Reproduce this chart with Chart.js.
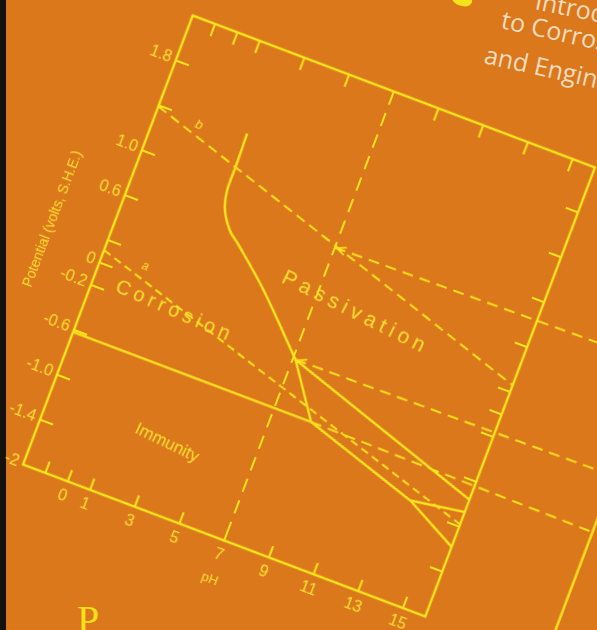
<!DOCTYPE html>
<html>
<head>
<meta charset="utf-8">
<script src="https://cdn.jsdelivr.net/npm/chart.js@4.4.1/dist/chart.umd.min.js"></script>
<style>
  html, body { margin: 0; padding: 0; }
  body { width: 597px; height: 630px; overflow: hidden; position: relative; background: #dc781c; }
  #strip { position: absolute; left: 0; top: 0; width: 6px; height: 630px; background: #15110d; }
  #plot { position: absolute; left: 14px; top: 55.5px; width: 670px; height: 560px;
          transform-origin: 295px 260px; transform: rotate(20.7deg); }
  .title { position: absolute; font: 25px "Open Sans", sans-serif; color: #f6dcbe; line-height: 1;
           white-space: nowrap; transform-origin: 0 22px; transform: rotate(12.5deg); }
  #blob { position: absolute; left: 452px; top: -6px; width: 20px; height: 12px; background: #f5e21a;
          border-radius: 50% 40% 60% 50%; transform: rotate(20deg); }
  #big { position: absolute; left: 77px; top: 600px; font: 40px "Liberation Serif", serif; color: #f5e01a; line-height: 1; }
</style>
</head>
<body>
<div id="strip"></div>
<div id="blob"></div>
<div class="title" style="left:534px; top:-13px; transform: rotate(11.5deg)">Introduction</div>
<div class="title" style="left:500px; top:6px">to Corrosion</div>
<div class="title" style="left:483px; top:41px">and Engineering</div>
<div id="big">P</div>
<div id="plot"><canvas id="chart" width="670" height="560"></canvas></div>
<script>
// axis ticks (pH across, potential in volts up)
const phTicks = [-1, 0, 1, 3, 5, 7, 9, 11, 13, 15];
const phLabels = ['', '0', '1', '3', '5', '7', '9', '11', '13', '15'];
const eTicks = [-1.8, -1.4, -1.0, -0.6, -0.2, 0, 0.2, 0.6, 1.0, 1.4, 1.8];
const eLabels = ['-2', '-1.4', '-1.0', '-0.6', '-0.2', '0', '', '0.6', '1.0', '', '1.8'];

// boundaries as [pH, E] pairs
const lineA = [[-2, 0.11], [16, -0.98]];
const lineB = [[-2, 1.39], [16, 0.26]];
const neutral = [[7, 2.2], [7, -1.8]];
const upperDash = [[7, 0.81], [21.3, 0.85]];
const middleDash = [[7.12, -0.18], [21.3, -0.15]];
const lowerDash = [[8.65, -0.62], [21.3, -0.65]];
const ironLine = [[-2, -0.62], [8.65, -0.62]];
const passiveCurve = [[1.88, 1.44], [1.92, 1.14], [1.94, 0.93], [2.16, 0.77], [2.65, 0.63], [3.17, 0.55], [4.77, 0.28], [7.12, -0.18]];
const linkLine = [[7.12, -0.18], [8.65, -0.62]];
const upperOxide = [[7.12, -0.18], [16, -0.76]];
const lowerOxide = [[8.65, -0.62], [13.7, -0.94]];
const tailUp = [[13.7, -0.94], [16, -0.87]];
const tailDown = [[13.7, -0.94], [16, -1.18]];
const secondFrame = [[21.3, 2.2], [21.3, -1.8]];

// region names and line letters
const notes = [
  { text: 'Corrosion', ph: 1.68, e: -0.16 },
  { text: 'Passivation', ph: 8.78, e: 0.36 },
  { text: 'Immunity', ph: 3.32, e: -1.21 },
  { text: 'a', ph: -0.14, e: 0.1 },
  { text: 'b', ph: -0.13, e: 1.36 }
];
const arrowsAt = [[7, 0.81], [7.12, -0.18]];

const yellow = '#ffe61c';
const textYellow = '#fbe030';

Chart.defaults.font.family = '"Liberation Sans", Arial, sans-serif';

const pts = (arr) => arr.map(([x, y]) => ({ x, y }));
function solid(arr) {
  return { data: pts(arr), showLine: true, borderColor: yellow, borderWidth: 2.4,
           pointRadius: 0, tension: 0, clip: false };
}
function dashed(arr, dash) {
  return { ...solid(arr), borderWidth: 1.9, borderDash: dash };
}

const noteStyle = {
  Corrosion: { font: '20px "Liberation Sans"', spacing: '4.5px', turn: 3 },
  Passivation: { font: '21px "Liberation Sans"', spacing: '5px', turn: 6 },
  Immunity: { font: '17px "Liberation Sans"', spacing: '0px', turn: 5 },
  a: { font: 'italic 12px "Liberation Sans"', spacing: '0px', turn: 0 },
  b: { font: 'italic 13px "Liberation Sans"', spacing: '0px', turn: 0 }
};

// frame with inward tick marks, region labels, little arrow heads
const frame = {
  id: 'frame',
  afterDatasetsDraw(chart) {
    const { ctx, chartArea: a, scales: { x, y } } = chart;
    ctx.save();
    ctx.strokeStyle = yellow;
    ctx.lineWidth = 2.4;
    ctx.strokeRect(a.left, a.top, a.width, a.height);
    ctx.lineWidth = 2;
    ctx.beginPath();
    phTicks.forEach((v) => {
      const px = x.getPixelForValue(v);
      ctx.moveTo(px, a.bottom); ctx.lineTo(px, a.bottom - 12);
      ctx.moveTo(px, a.top); ctx.lineTo(px, a.top + 13);
    });
    eTicks.forEach((v) => {
      if (v <= y.min) return;
      const py = y.getPixelForValue(v);
      ctx.moveTo(a.left, py); ctx.lineTo(a.left + 14, py);
      ctx.moveTo(a.right, py); ctx.lineTo(a.right - 13, py);
    });
    ctx.stroke();

    ctx.lineWidth = 1.6;
    ctx.beginPath();
    arrowsAt.forEach(([ph, e]) => {
      const px = x.getPixelForValue(ph) + 2, py = y.getPixelForValue(e);
      ctx.moveTo(px + 9, py - 4); ctx.lineTo(px, py); ctx.lineTo(px + 9, py + 4);
    });
    ctx.stroke();

    ctx.fillStyle = textYellow;
    ctx.textAlign = 'center';
    ctx.textBaseline = 'middle';
    notes.forEach((n) => {
      const s = noteStyle[n.text];
      ctx.save();
      ctx.translate(x.getPixelForValue(n.ph), y.getPixelForValue(n.e));
      ctx.rotate(s.turn * Math.PI / 180);
      ctx.font = s.font;
      ctx.letterSpacing = s.spacing;
      ctx.fillText(n.text, 0, 0);
      ctx.restore();
    });
    ctx.restore();
  }
};

new Chart(document.getElementById('chart'), {
  type: 'scatter',
  data: {
    datasets: [
      dashed(lineA, [8, 5]),
      dashed(lineB, [10, 6]),
      dashed(neutral, [14, 9]),
      dashed(upperDash, [11, 7]),
      dashed(middleDash, [11, 7]),
      dashed(lowerDash, [11, 7]),
      solid(ironLine),
      { ...solid(passiveCurve), tension: 0.35 },
      solid(linkLine),
      solid(upperOxide),
      solid(lowerOxide),
      solid(tailUp),
      solid(tailDown),
      solid(secondFrame)
    ]
  },
  options: {
    responsive: false,
    animation: false,
    devicePixelRatio: 1,
    layout: { padding: { left: 5, top: 20, right: 160, bottom: 5 } },
    plugins: { legend: { display: false }, tooltip: { enabled: false } },
    scales: {
      x: {
        type: 'linear', min: -2, max: 16,
        afterBuildTicks: (s) => { s.ticks = phTicks.map((v) => ({ value: v })); },
        afterFit: (s) => { s.height = 55; },
        grid: { display: false, drawTicks: false },
        border: { display: false },
        ticks: { autoSkip: false, maxRotation: 0, padding: 6, color: textYellow, font: { size: 16 },
                 callback: (v, i) => phLabels[i] },
        title: { display: true, text: 'pH', color: textYellow, font: { size: 13 }, padding: { top: 0, bottom: 6 } }
      },
      y: {
        type: 'linear', min: -1.8, max: 2.2,
        afterBuildTicks: (s) => { s.ticks = eTicks.map((v) => ({ value: v })); },
        afterFit: (s) => { s.width = 75; },
        grid: { display: false, drawTicks: false },
        border: { display: false },
        ticks: { autoSkip: false, padding: 5, color: textYellow, font: { size: 16 },
                 callback: (v, i) => eLabels[i] },
        title: { display: true, text: 'Potential (volts, S.H.E.)', color: textYellow, font: { size: 14 },
                 padding: { top: 8, bottom: 0 } }
      }
    }
  },
  plugins: [frame]
});
</script>
</body>
</html>
